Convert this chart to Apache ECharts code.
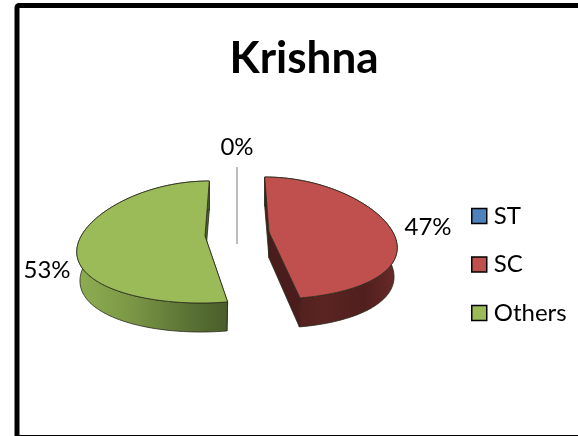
<!DOCTYPE html>
<html>
<head>
<meta charset="utf-8">
<style>html,body{margin:0;padding:0;background:#fff;overflow:hidden}#c{width:578px;height:436px}</style>
<script src="https://cdn.jsdelivr.net/npm/echarts@6/dist/echarts.min.js"></script>
</head>
<body>
<div id="c"></div>
<script>
const categories = ['ST', 'SC', 'Others'];
const values = [0, 47, 53];
const titleText = 'Krishna';
const colors = ['#4f81bd', '#c0504d', '#9bbb59'];
const FONT = 'Lato, "Open Sans", sans-serif';

// Drawing settings of the tilted pie, one entry per category
const shapes = [
  { cx: 237, cy: 240, label: [237, 147], wall: null },
  { cx: 269, cy: 238, label: [428, 227],
    wall: [[0, '#4a1d1c'], [0.45, '#5a2422'], [0.75, '#4f1f1e'], [1, '#6b2a28']], face: '#4a1d1c' },
  { cx: 205, cy: 242, label: [47, 270],
    wall: [[0, '#8eae52'], [0.35, '#7c9846'], [0.7, '#5d7636'], [1, '#495d29']], face: '#4f6530' }
];
const RX = 126.5, RY = 61, DEPTH = 29, APEX_LIFT = 6, PIVOT = 237, PERSP = 0.0022, APEX_DEPTH = 26, LOW_SHRINK = 0.975;

const total = values.reduce((a, b) => a + b, 0);
function rim(s, deg, dy) {
  const t = deg * Math.PI / 180;
  const shrink = dy ? LOW_SHRINK : 1;
  const x = s.cx + RX * shrink * Math.sin(t);
  const y = s.cy - RY * Math.cos(t);
  const k = 1 + PERSP * (y - s.cy);
  return [PIVOT + (x - PIVOT) * k, y + dy];
}
function arc(s, a0, a1, dy) {
  const pts = [];
  const n = Math.max(2, Math.ceil(Math.abs(a1 - a0) / 2));
  for (let i = 0; i <= n; i++) pts.push(rim(s, a0 + (a1 - a0) * i / n, dy));
  return pts;
}
const OUTLINE = { stroke: '#2a2a1c', lineWidth: 0.8 };
function poly(points, fill) {
  return { type: 'polygon', shape: { points }, style: Object.assign({ fill }, OUTLINE) };
}
function labelEl(s, text) {
  return { type: 'text', x: s.label[0], y: s.label[1], style: {
    text, font: '24px ' + FONT, fill: '#000', align: 'center', verticalAlign: 'middle' } };
}
function renderSlice(index) {
  return function (params, api) {
    const v = api.value(0);
    let start = 0;
    for (let i = 0; i < index; i++) start += values[i];
    const a0 = start / total * 360, a1 = (start + v) / total * 360;
    const s = shapes[index];
    const pct = Math.round(v / total * 100) + '%';
    if (v === 0) {
      return { type: 'group', children: [
        { type: 'line', shape: { x1: s.cx, y1: 167, x2: s.cx, y2: 244 },
          style: { stroke: '#a6a6a6', lineWidth: 1.5 } },
        labelEl(s, pct)
      ] };
    }
    const apex = [s.cx, s.cy - APEX_LIFT];
    const apexLow = [s.cx, s.cy - APEX_LIFT + APEX_DEPTH];
    const top = arc(s, a0, a1, 0), low = arc(s, a0, a1, DEPTH);
    const wall = top.concat(low.slice().reverse());
    const grad = new echarts.graphic.LinearGradient(0, 0, 1, 0,
      s.wall.map(w => ({ offset: w[0], color: w[1] })));
    const pA = top[0], pB = top[top.length - 1];
    const lA = low[0], lB = low[low.length - 1];
    return { type: 'group', children: [
      poly([pA, apex, apexLow, lA], s.face),
      poly([pB, apex, apexLow, lB], s.face),
      poly(wall, grad),
      poly([apex].concat(top), colors[index]),
      labelEl(s, pct)
    ] };
  };
}

const chart = echarts.init(document.getElementById('c'), null, { renderer: 'canvas' });
chart.setOption({
  animation: false,
  title: { text: titleText, left: 299, top: 32, textAlign: 'center',
    textStyle: { fontFamily: FONT, fontSize: 44, fontWeight: 'bold', color: '#000' } },
  legend: {
    orient: 'vertical', left: 466, top: 199, itemWidth: 15, itemHeight: 15, itemGap: 24.5,
    icon: 'rect', data: categories,
    itemStyle: { borderColor: '#000', borderWidth: 1.5 },
    textStyle: { fontFamily: FONT, fontSize: 24, color: '#000', padding: [0, 0, 0, 2] }
  },
  graphic: [{ type: 'rect', silent: true, shape: { x: 17, y: 5.5, width: 640, height: 432, r: 2 },
    style: { fill: 'none', stroke: '#000', lineWidth: 5 }, z: 10 }],
  series: categories.map((name, i) => ({
    type: 'custom', name, coordinateSystem: 'none', silent: true,
    itemStyle: { color: colors[i] },
    renderItem: renderSlice(i),
    data: [[values[i]]],
    z: i === 0 ? 1 : 2
  }))
});
</script>
</body>
</html>
